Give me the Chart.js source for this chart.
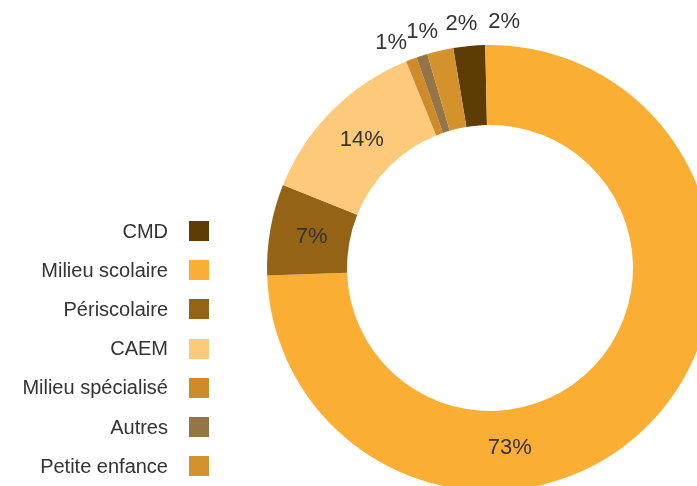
<!DOCTYPE html>
<html>
<head>
<meta charset="utf-8">
<script src="https://cdn.jsdelivr.net/npm/chart.js@4.4.0/dist/chart.umd.min.js"></script>
<style>
  html, body { margin: 0; padding: 0; background: #fff; overflow: hidden; width: 697px; height: 486px; }
  #wrap { position: absolute; left: 0; top: 0; width: 720px; height: 500px; }
  #legend { position: absolute; left: 0; top: 0; font-family: 'Liberation Sans', Arial, sans-serif; font-size: 20px; color: #333; }
  .item { position: absolute; left: 0; width: 209px; height: 20px; display: flex; justify-content: flex-end; align-items: center; white-space: nowrap; }
  .box { width: 20px; height: 20px; margin-left: 21px; flex: none; }
</style>
</head>
<body>
<div id="wrap"><canvas id="chart"></canvas></div>
<div id="legend"></div>
<script>
// categories, in legend order (also the drawing order, clockwise)
const categories = ['CMD', 'Milieu scolaire', 'Périscolaire', 'CAEM', 'Milieu spécialisé', 'Autres', 'Petite enfance'];
// slice sizes
const shares = [2.3, 74.8, 6.6, 12.8, 0.8, 0.8, 1.9];
// percentage labels printed on the chart
const pctLabels = ['2%', '73%', '7%', '14%', '1%', '1%', '2%'];
const colors = ['#5d3d04', '#fbae34', '#956316', '#fdc97b', '#cd8b2a', '#957548', '#d4922c'];

// legend
const legend = document.getElementById('legend');
categories.forEach((c, i) => {
  const row = document.createElement('div');
  row.className = 'item';
  row.style.top = (221 + i * 39.2) + 'px';
  const txt = document.createElement('span');
  txt.textContent = c;
  const box = document.createElement('span');
  box.className = 'box';
  box.style.background = colors[i];
  row.appendChild(txt);
  row.appendChild(box);
  legend.appendChild(row);
});

// draws the % labels; angles are in degrees clockwise from 12 o'clock
const pctLabelPlugin = {
  id: 'pctLabels',
  afterDatasetsDraw(chart, args, opts) {
    const meta = chart.getDatasetMeta(0);
    const ctx = chart.ctx;
    ctx.save();
    ctx.font = opts.font;
    ctx.fillStyle = opts.color;
    ctx.textAlign = 'center';
    ctx.textBaseline = 'middle';
    meta.data.forEach((arc, i) => {
      const p = arc.getProps(['x', 'y', 'startAngle', 'endAngle', 'innerRadius', 'outerRadius'], true);
      let a = (p.startAngle + p.endAngle) / 2;
      let r = (p.innerRadius + p.outerRadius) / 2 - 2;
      if (opts.outside[i] !== undefined) {
        a = (opts.outside[i] - 90) * Math.PI / 180;
        r = p.outerRadius + 23;
      } else if (opts.angle[i] !== undefined) {
        a = (opts.angle[i] - 90) * Math.PI / 180;
      }
      ctx.fillText(pctLabels[i], p.x + Math.cos(a) * r, p.y + Math.sin(a) * r);
    });
    ctx.restore();
  }
};

new Chart(document.getElementById('chart'), {
  type: 'doughnut',
  data: {
    labels: categories,
    datasets: [{
      data: shares,
      backgroundColor: colors,
      borderWidth: 0,
      hoverOffset: 0
    }]
  },
  options: {
    responsive: true,
    maintainAspectRatio: false,
    animation: false,
    rotation: -9.5,
    cutout: 143,
    layout: { padding: { left: 267, top: 45, right: 7, bottom: 9 } },
    plugins: {
      legend: { display: false },
      tooltip: { enabled: false },
      pctLabels: {
        font: "22px 'Liberation Sans', Arial, sans-serif",
        color: '#333',
        angle: { 1: 173.7 },
        outside: { 0: 3.3, 4: 336.3, 5: 344, 6: 353.3 }
      }
    }
  },
  plugins: [pctLabelPlugin]
});
</script>
</body>
</html>
